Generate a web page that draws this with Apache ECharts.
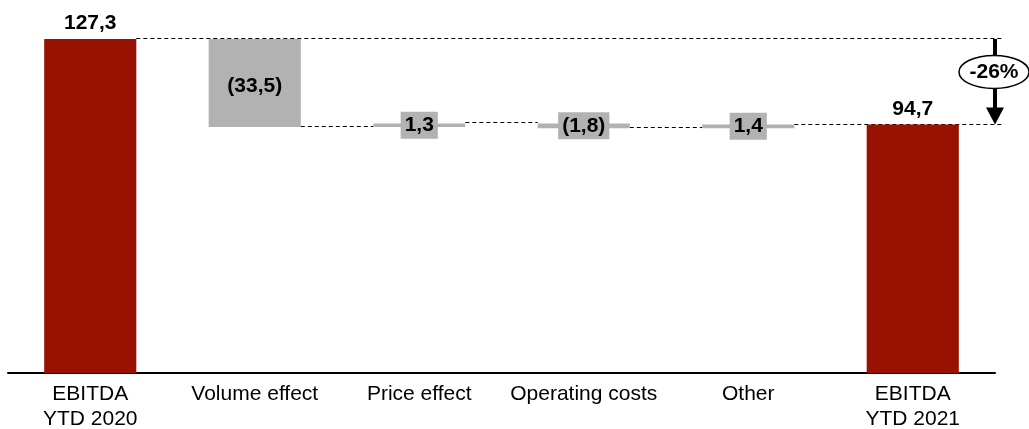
<!DOCTYPE html>
<html>
<head>
<meta charset="utf-8">
<script src="https://cdn.jsdelivr.net/npm/echarts@6/dist/echarts.min.js"></script>
<style>
html,body{margin:0;padding:0;background:#fff;}
#chart{width:1029px;height:429px;}
</style>
</head>
<body>
<div id="chart"></div>
<script>
var categories = ['EBITDA\nYTD 2020', 'Volume effect', 'Price effect', 'Operating costs', 'Other', 'EBITDA\nYTD 2021'];
var values = [127.3, -33.5, 1.3, -1.8, 1.4, 94.7];
var kinds = ['total', 'delta', 'delta', 'delta', 'delta', 'total'];

var RED = '#991100', GRAY = '#b2b2b2', BAR_FRAC = 0.56;

function fmt(v) {
  var s = Math.abs(v).toFixed(1).replace('.', ',');
  return v < 0 ? '(' + s + ')' : s;
}

// build waterfall
var bases = [], heights = [], levels = [];
var cum = 0;
for (var i = 0; i < values.length; i++) {
  if (kinds[i] === 'total') {
    bases.push(0); heights.push(values[i]); cum = values[i];
  } else {
    var next = cum + values[i];
    bases.push(Math.min(cum, next)); heights.push(Math.abs(values[i])); cum = next;
  }
  levels.push(cum);
}
var startVal = values[0], endVal = values[values.length - 1];
var pct = Math.round((endVal / startVal - 1) * 100) + '%';

// connectors: [fromIndex, toIndex (-1 = arrow), level]
var connectors = [[0, -1, startVal]];
for (var j = 1; j < values.length - 2; j++) connectors.push([j, j + 1, levels[j]]);
connectors.push([values.length - 2, -1, endVal]);

var chart = echarts.init(document.getElementById('chart'));
chart.setOption({
  animation: false,
  grid: { left: 8, right: 34, top: 39, bottom: 56, containLabel: false, outerBoundsMode: 'none' },
  xAxis: {
    type: 'category', data: categories,
    axisLine: { lineStyle: { color: '#000', width: 2 } },
    axisTick: { show: false },
    axisLabel: { color: '#000', fontSize: 21, fontFamily: 'Liberation Sans, Arial, sans-serif', lineHeight: 25, margin: 9, interval: 0 }
  },
  yAxis: { type: 'value', min: 0, max: Math.max.apply(null, levels), show: false, splitLine: { show: false } },
  series: [
    {
      type: 'custom', z: 1, silent: true,
      data: connectors,
      renderItem: function (params, api) {
        var from = api.value(0), to = api.value(1), lvl = api.value(2);
        var band = api.size([1, 0])[0];
        var p = api.coord([from, lvl]);
        var y = Math.round(p[1]) - 0.5;
        var x1 = p[0] + band * BAR_FRAC / 2;
        var x2 = to >= 0 ? api.coord([to, lvl])[0] - band * BAR_FRAC / 2
                         : api.coord([values.length - 1, lvl])[0] + band / 2 + 8;
        return { type: 'line', shape: { x1: x1, y1: y, x2: x2, y2: y },
                 style: { stroke: '#000', lineWidth: 1, lineDash: [4, 3] } };
      }
    },
    {
      type: 'bar', stack: 'w', barWidth: (BAR_FRAC * 100) + '%', silent: true,
      itemStyle: { color: 'transparent' },
      data: bases
    },
    {
      type: 'bar', stack: 'w', silent: true, z: 3,
      data: heights.map(function (h, i) {
        var total = kinds[i] === 'total';
        return {
          value: h,
          itemStyle: { color: total ? RED : GRAY },
          label: total ? { position: 'top', distance: 5 }
                       : { position: 'inside', backgroundColor: GRAY, padding: [3, 4], offset: [0, i === 1 ? 3 : 0] }
        };
      }),
      label: {
        show: true, color: '#000', fontSize: 21, fontWeight: 'bold',
        fontFamily: 'Liberation Sans, Arial, sans-serif',
        formatter: function (p) { return fmt(values[p.dataIndex]); }
      }
    },
    {
      type: 'custom', z: 5, silent: true,
      data: [[values.length - 1, startVal, endVal]],
      renderItem: function (params, api) {
        var band = api.size([1, 0])[0];
        var pTop = api.coord([api.value(0), api.value(1)]);
        var pBot = api.coord([api.value(0), api.value(2)]);
        var x = pTop[0] + band / 2;
        var yT = pTop[1], yB = pBot[1];
        var cy = yT + (yB - yT) * 0.385;
        return {
          type: 'group', children: [
            { type: 'line', shape: { x1: x, y1: yT, x2: x, y2: yB - 14 }, style: { stroke: '#000', lineWidth: 4 } },
            { type: 'polygon', shape: { points: [[x - 9, yB - 17], [x + 9, yB - 17], [x, yB]] }, style: { fill: '#000' } },
            { type: 'ellipse', shape: { cx: x - 1, cy: cy, rx: 35, ry: 16.5 }, style: { fill: '#fff', stroke: '#000', lineWidth: 1.5 } },
            { type: 'text', x: x - 1, y: cy, style: { text: pct, fill: '#000', fontSize: 21, fontWeight: 'bold',
              fontFamily: 'Liberation Sans, Arial, sans-serif', align: 'center', verticalAlign: 'middle' } }
          ]
        };
      }
    }
  ]
});
</script>
</body>
</html>
